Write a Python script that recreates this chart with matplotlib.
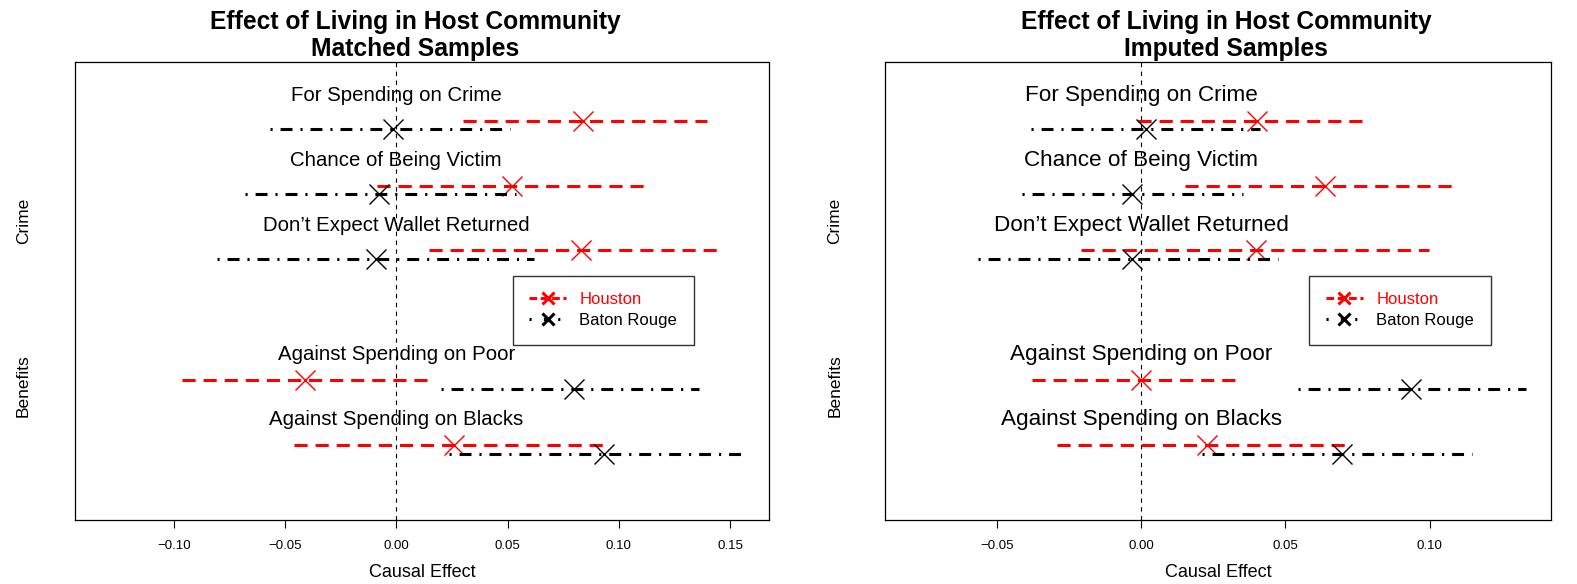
import matplotlib
matplotlib.use("Agg")
import matplotlib.pyplot as plt
from matplotlib.lines import Line2D

plt.rcParams['font.family'] = ['Liberation Sans', 'DejaVu Sans']

items = ["For Spending on Crime", "Chance of Being Victim",
         "Don\u2019t Expect Wallet Returned",
         "Against Spending on Poor", "Against Spending on Blacks"]
groups = ["Crime", "Benefits"]

# matched samples
m_hou_est = [0.084, 0.052, 0.083, -0.041, 0.026]
m_hou_lo = [0.030, -0.0085, 0.0146, -0.0965, -0.046]
m_hou_hi = [0.1395, 0.1125, 0.145, 0.0140, 0.0950]
m_bat_est = [-0.0014, -0.0077, -0.0091, 0.080, 0.0933]
m_bat_lo = [-0.0566, -0.068, -0.0806, 0.020, 0.0236]
m_bat_hi = [0.0511, 0.054, 0.0618, 0.1362, 0.1574]

# imputed samples
i_hou_est = [0.040, 0.0636, 0.0396, -0.0002, 0.0226]
i_hou_lo = [-0.0012, 0.015, -0.0209, -0.0379, -0.0292]
i_hou_hi = [0.0775, 0.1085, 0.0999, 0.0331, 0.072]
i_bat_est = [0.0017, -0.0033, -0.0033, 0.0937, 0.0695]
i_bat_lo = [-0.0382, -0.0415, -0.0568, 0.0544, 0.0211]
i_bat_hi = [0.041, 0.0354, 0.0473, 0.1334, 0.1148]

m_ticks = [-0.10, -0.05, 0.00, 0.05, 0.10, 0.15]
i_ticks = [-0.05, 0.00, 0.05, 0.10]

rows = [7, 6, 5, 3, 2]
group_y = [5.46, 2.92]
red_ls = (0, (4.3, 2.6))
blk_ls = (0, (0.7, 2.6, 3.9, 2.6))


def panel(ax, hou, bat, ticks, xlim, fs, legx):
    he, hl, hh = hou
    be, bl, bh = bat
    ax.axvline(0, color='black', lw=0.8, ls=(0, (4, 4)))
    for k, y in enumerate(rows):
        ax.plot([hl[k], hh[k]], [y, y], color='red', lw=2.2, ls=red_ls)
        ax.plot(he[k], y, marker='x', color='red', ms=15, mew=1.0)
        yb = y - 0.13
        ax.plot([bl[k], bh[k]], [yb, yb], color='black', lw=2.2, ls=blk_ls)
        ax.plot(be[k], yb, marker='x', color='black', ms=15, mew=1.0)
        ax.text(0, y + 0.39, items[k], ha='center', va='center', fontsize=fs)
    for g, gy in zip(groups, group_y):
        ax.text(-0.075, gy, g, rotation=90, ha='center', va='center',
                fontsize=12.5, transform=ax.get_yaxis_transform())
    ax.set_xlim(*xlim)
    ax.set_ylim(0.854, 7.898)
    ax.set_yticks([])
    ax.set_xticks(ticks)
    ax.set_xticklabels([("%.2f" % t).replace("-", "\u2212") for t in ticks],
                       fontsize=9.5)
    ax.tick_params(axis='x', direction='out', length=6, width=0.8, pad=9)
    for s in ax.spines.values():
        s.set_linewidth(0.9)
    ax.set_xlabel("Causal Effect", fontsize=13, labelpad=8)
    h = [Line2D([], [], color='red', lw=2.2, ls=(0, (2.5, 1.2)), marker='x',
                ms=8, mew=2.2),
         Line2D([], [], color='black', lw=2.2, ls=(0, (0.7, 4)), marker='x',
                ms=8, mew=2.2)]
    ax.legend(h, ["Houston", "Baton Rouge"], loc='upper left',
              bbox_to_anchor=(legx, 0.552), fontsize=12, frameon=True,
              fancybox=False, edgecolor='black', handlelength=2.2,
              labelcolor=['red', 'black'], borderpad=1.0, labelspacing=0.35)


fig = plt.figure(figsize=(15.77, 5.84), dpi=100)
ax1 = fig.add_axes([0.0478, 0.1102, 0.4401, 0.7831])
ax2 = fig.add_axes([0.5612, 0.1102, 0.4222, 0.7831])

panel(ax1, (m_hou_est, m_hou_lo, m_hou_hi), (m_bat_est, m_bat_lo, m_bat_hi),
      m_ticks, (-0.1442, 0.1677), 14.7, 0.618)
panel(ax2, (i_hou_est, i_hou_lo, i_hou_hi), (i_bat_est, i_bat_lo, i_bat_hi),
      i_ticks, (-0.089, 0.1421), 16.2, 0.625)

fig.text(0.2634, 0.939, "Effect of Living in Host Community\nMatched Samples",
         ha='center', va='center', fontsize=17.7, fontweight='bold',
         linespacing=1.18)
fig.text(0.7774, 0.939, "Effect of Living in Host Community\nImputed Samples",
         ha='center', va='center', fontsize=17.7, fontweight='bold',
         linespacing=1.18)

fig.savefig("out.png", dpi=100)
